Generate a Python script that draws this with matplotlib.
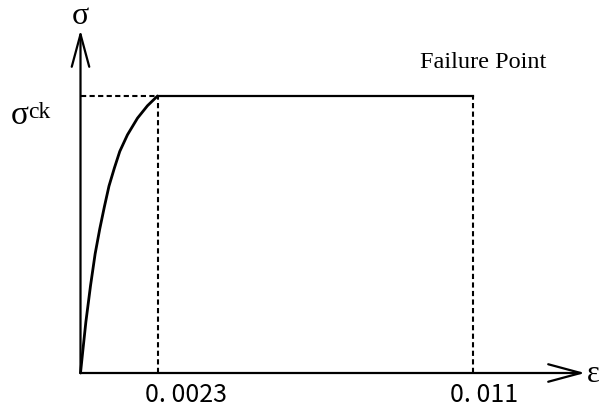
import matplotlib
matplotlib.use("Agg")
import numpy as np
import matplotlib.pyplot as plt

# stress-strain curve (strain, normalised stress)
strain_curve = [0.0, 0.000069, 0.000161, 0.000299, 0.000437, 0.000575, 0.000713,
                0.000851, 0.001012, 0.001173, 0.001403, 0.001702, 0.002001, 0.0023]
stress_curve = [0.0, 0.08, 0.185, 0.315, 0.43, 0.52, 0.60,
                0.675, 0.74, 0.80, 0.86, 0.92, 0.965, 1.0]
eps_peak = 0.0023
eps_fail = 0.011
sig_ck = 1.0
tick_vals = [0.0023, 0.011]
tick_labels = ["0. 0023", "0. 011"]

W, H = 601, 408
fig = plt.figure(figsize=(W / 100, H / 100), dpi=100)
ax = fig.add_axes([0, 0, 1, 1])

# the sketch is not drawn to scale: piecewise linear strain axis
a1 = 77 / eps_peak
a2 = 315.5 / (eps_fail - eps_peak)


def fwd(x):
    x = np.asarray(x, dtype=float)
    return np.where(x <= eps_peak, x * a1, eps_peak * a1 + (x - eps_peak) * a2)


def inv(p):
    p = np.asarray(p, dtype=float)
    return np.where(p <= eps_peak * a1, p / a1, eps_peak + (p - eps_peak * a1) / a2)


ax.set_xscale("function", functions=(fwd, inv))
ax.set_xlim(float(inv(-80.5)), float(inv(W - 80.5)))
ax.set_ylim(-(H - 373) / 277, 373 / 277)
ax.axis("off")

dash = (0, (2.5, 1.6))
lw = 1.6

# axes with open arrow heads
arr = dict(arrowstyle="->,head_length=1.3,head_width=0.35", lw=lw,
           color="black", shrinkA=0, shrinkB=0, mutation_scale=18)
ax.annotate("", xy=(0, 1 - 30 / H), xytext=(0, 0),
            xycoords=("data", "axes fraction"), textcoords="data", arrowprops=arr)
ax.annotate("", xy=(585 / W, 0), xytext=(0, 0),
            xycoords=("axes fraction", "data"), textcoords="data", arrowprops=arr)

# curve and plateau
ax.plot(strain_curve, stress_curve, color="black", lw=2.0, solid_capstyle="round")
ax.plot([eps_peak, eps_fail], [sig_ck, sig_ck], color="black", lw=lw)

# dashed guides
ax.plot([0, eps_peak], [sig_ck, sig_ck], color="black", lw=1.5, linestyle=dash)
for t in tick_vals:
    ax.plot([t, t], [0, sig_ck], color="black", lw=1.5, linestyle=dash)

serif = "Liberation Serif"
ax.text(80 / W, 1 - 16 / H, "σ", transform=ax.transAxes, fontsize=23,
        family=serif, ha="center", va="center")
ax.text(20 / W, 1 - 116 / H, "σ", transform=ax.transAxes, fontsize=24,
        family=serif, ha="center", va="center")
ax.text(28 / W, 1 - 112 / H, "ck", transform=ax.transAxes, fontsize=17,
        family=serif, ha="left", va="center")
ax.text(420 / W, 1 - 62 / H, "Failure Point", transform=ax.transAxes,
        fontsize=17.5, family=serif, ha="left", va="center")
ax.text(587 / W, 1 - 374 / H, "ε", transform=ax.transAxes, fontsize=22,
        family=serif, ha="left", va="center")

label_left = [145, 450]
for lx, lab in zip(label_left, tick_labels):
    ax.text(lx / W, 1 - 395 / H, lab, transform=ax.transAxes, fontsize=18,
            family=["Noto Sans CJK JP", "DejaVu Sans"], ha="left", va="center")

fig.savefig("out.png", dpi=100)
